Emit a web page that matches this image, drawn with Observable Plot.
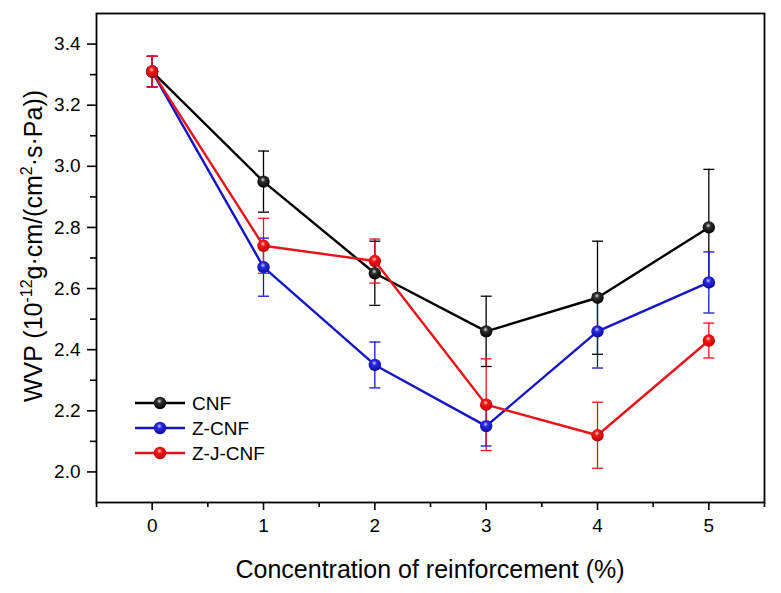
<!DOCTYPE html>
<html><head><meta charset="utf-8">
<script src="https://cdn.jsdelivr.net/npm/d3@7"></script>
<script src="https://cdn.jsdelivr.net/npm/@observablehq/plot@0.6"></script>
<style>body{margin:0;background:#fff} #chart{width:781px;height:593px}</style>
</head><body>
<svg width="0" height="0" style="position:absolute">
  <defs>
    <radialGradient id="gCNF" cx="0.45" cy="0.35" r="0.65">
      <stop offset="0" stop-color="#d8d8d8"/><stop offset="0.3" stop-color="#303030"/><stop offset="1" stop-color="#000"/>
    </radialGradient>
    <radialGradient id="gZCNF" cx="0.45" cy="0.35" r="0.65">
      <stop offset="0" stop-color="#c8c8ff"/><stop offset="0.3" stop-color="#2a2ae0"/><stop offset="1" stop-color="#0a0aa0"/>
    </radialGradient>
    <radialGradient id="gZJCNF" cx="0.45" cy="0.35" r="0.65">
      <stop offset="0" stop-color="#ffd0d0"/><stop offset="0.3" stop-color="#f01818"/><stop offset="1" stop-color="#c00000"/>
    </radialGradient>
  </defs>
</svg>
<div id="chart"></div>
<script>
// ---- data ----
const concentrations = [0, 1, 2, 3, 4, 5];
const seriesNames = ["CNF", "Z-CNF", "Z-J-CNF"];
const seriesColors = ["#000000", "#1515c8", "#e8141b"];
const seriesFills = ["url(#gCNF)", "url(#gZCNF)", "url(#gZJCNF)"];
const cnfValues   = [3.31, 2.95, 2.65, 2.46, 2.57, 2.80];
const cnfErrors   = [0.05, 0.10, 0.105, 0.115, 0.185, 0.19];
const zcnfValues  = [3.31, 2.67, 2.35, 2.15, 2.46, 2.62];
const zcnfErrors  = [0.05, 0.095, 0.075, 0.065, 0.12, 0.10];
const zjcnfValues = [3.31, 2.74, 2.69, 2.22, 2.12, 2.43];
const zjcnfErrors = [0.05, 0.09, 0.072, 0.15, 0.108, 0.057];
const xTicks = [0, 1, 2, 3, 4, 5];
const xMinorTicks = [-0.5, 0.5, 1.5, 2.5, 3.5, 4.5, 5.5];
const yTicks = [2.0, 2.2, 2.4, 2.6, 2.8, 3.0, 3.2, 3.4];
const yMinorTicks = [2.1, 2.3, 2.5, 2.7, 2.9, 3.1, 3.3];
const xTitle = "Concentration of reinforcement (%)";

// ---- table ----
const allValues = [cnfValues, zcnfValues, zjcnfValues];
const allErrors = [cnfErrors, zcnfErrors, zjcnfErrors];
const rows = [];
seriesNames.forEach((s, i) => {
  concentrations.forEach((c, j) => {
    rows.push({series: s, c, v: allValues[i][j], e: allErrors[i][j],
               color: seriesColors[i], fill: seriesFills[i]});
  });
});

const capSymbol = {draw(ctx, size) { const w = Math.sqrt(size / Math.PI); ctx.moveTo(-w, 0); ctx.lineTo(w, 0); }};
const font = "'Liberation Sans', Arial, sans-serif";

const plot = Plot.plot({
  width: 781, height: 593,
  marginLeft: 96, marginRight: 17, marginTop: 13, marginBottom: 91,
  style: {fontFamily: font, background: "white", color: "black"},
  x: {domain: [-0.5, 5.5]},
  y: {domain: [1.9, 3.5]},
  color: {type: "identity"},
  marks: [
    Plot.ruleX(rows, {x: "c", y1: d => d.v - d.e, y2: d => d.v + d.e, stroke: "color", strokeWidth: 1.3}),
    Plot.dot(rows, {x: "c", y: d => d.v + d.e, symbol: capSymbol, r: 5.5, fill: "none", stroke: "color", strokeWidth: 1.3}),
    Plot.dot(rows, {x: "c", y: d => d.v - d.e, symbol: capSymbol, r: 5.5, fill: "none", stroke: "color", strokeWidth: 1.3}),
    Plot.line(rows, {x: "c", y: "v", z: "series", stroke: "color", strokeWidth: 2.4}),
    Plot.dot(rows, {x: "c", y: "v", r: 6.2, fill: "fill", stroke: "none"}),
    Plot.axisX({ticks: xTicks, tickSize: 8, tickPadding: 8, tickFormat: d => String(d), label: null, strokeWidth: 1.6}),
    Plot.axisX({ticks: xMinorTicks, tickSize: 5, tickFormat: () => "", label: null, strokeWidth: 1.6}),
    Plot.axisY({ticks: yTicks, tickSize: 9, tickPadding: 7, tickFormat: d3.format(".1f"), label: null, strokeWidth: 1.6}),
    Plot.axisY({ticks: yMinorTicks, tickSize: 6, tickFormat: () => "", label: null, strokeWidth: 1.6}),
    Plot.frame({stroke: "black", strokeWidth: 1.8})
  ]
});
document.getElementById("chart").appendChild(plot);

const svg = d3.select(plot);
svg.attr("font-size", 19);
svg.selectAll("g").filter(function() { return this.querySelector("text"); })
  .attr("font-size", 19).attr("font-family", font);
svg.selectAll("text").attr("font-size", 19).style("font-size", "19px").attr("fill", "black");
// x title
svg.append("text").attr("x", 430).attr("y", 578).attr("text-anchor", "middle")
  .attr("font-family", font).attr("font-size", 25).attr("fill", "black").text(xTitle);
// y title
const yt = svg.append("text").attr("transform", "translate(42,246) rotate(-90)")
  .attr("text-anchor", "middle").attr("font-family", font).attr("font-size", 25).attr("fill", "black");
yt.append("tspan").text("WVP (10");
yt.append("tspan").attr("dy", -10).attr("font-size", 16).text("-12");
yt.append("tspan").attr("dy", 10).text("g·cm/(cm");
yt.append("tspan").attr("dy", -10).attr("font-size", 16).text("2");
yt.append("tspan").attr("dy", 10).text("·s·Pa))");
// legend
const lg = svg.append("g").attr("font-family", font).attr("font-size", 19).attr("text-anchor", "start");
seriesNames.forEach((s, i) => {
  const y = 403 + i * 25;
  lg.append("line").attr("x1", 135).attr("x2", 185).attr("y1", y).attr("y2", y)
    .attr("stroke", seriesColors[i]).attr("stroke-width", 2.4);
  lg.append("circle").attr("cx", 160).attr("cy", y).attr("r", 6.2).attr("fill", seriesFills[i]);
  lg.append("text").attr("x", 192).attr("y", y).attr("dy", "0.36em").attr("text-anchor", "start").attr("fill", "black").text(s);
});
</script>
</body></html>
